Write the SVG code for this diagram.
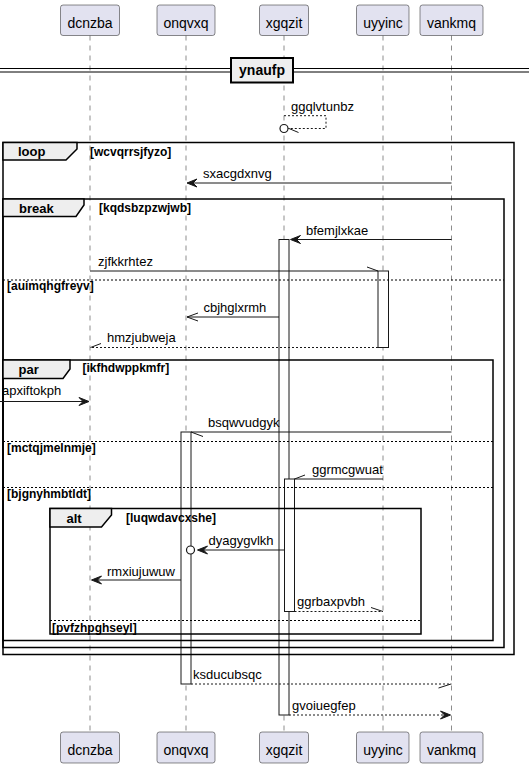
<svg xmlns="http://www.w3.org/2000/svg" width="529" height="768" viewBox="0 0 529 768">
<style>
text{font-family:"Liberation Sans",Arial,sans-serif;fill:#000}
.pname{font-size:14px;text-anchor:middle}
.msg{font-size:13px}
.glabel{font-size:13px;font-weight:bold}
.cond{font-size:12px;font-weight:bold}
.pbox{fill:#E2E2F0;stroke:#181818;stroke-width:0.5}
.life{stroke:#181818;stroke-width:0.5;stroke-dasharray:5,5}
.frame{fill:none;stroke:#000;stroke-width:1.5}
.tab{fill:#EEEEEE;stroke:#000;stroke-width:1.5}
.sep{stroke:#000;stroke-width:1;stroke-dasharray:2,2}
.act{fill:#FFFFFF;stroke:#181818;stroke-width:1}
.ln{stroke:#181818;stroke-width:1;fill:none}
.dl{stroke:#181818;stroke-width:1;fill:none;stroke-dasharray:2,2}
.ah{fill:#181818;stroke:#181818;stroke-width:1}
</style>
<rect width="529" height="768" fill="#FFFFFF"/>
<g id="lifelines">
<line class="life" x1="90" y1="35.5" x2="90" y2="732"/>
<line class="life" x1="186" y1="35.5" x2="186" y2="732"/>
<line class="life" x1="284" y1="35.5" x2="284" y2="732"/>
<line class="life" x1="383" y1="35.5" x2="383" y2="732"/>
<line class="life" x1="451.5" y1="35.5" x2="451.5" y2="732"/>
</g>
<g id="participants">
<g id="p-dcnzba"><rect class="pbox" x="60.5" y="5" width="59" height="30.5" rx="2.5"/><text class="pname" x="90" y="28">dcnzba</text>
<rect class="pbox" x="60.5" y="732" width="59" height="31" rx="2.5"/><text class="pname" x="90" y="755">dcnzba</text></g>
<g id="p-onqvxq"><rect class="pbox" x="157" y="5" width="58" height="30.5" rx="2.5"/><text class="pname" x="186" y="28">onqvxq</text>
<rect class="pbox" x="157" y="732" width="58" height="31" rx="2.5"/><text class="pname" x="186" y="755">onqvxq</text></g>
<g id="p-xgqzit"><rect class="pbox" x="259.5" y="5" width="49" height="30.5" rx="2.5"/><text class="pname" x="284" y="28">xgqzit</text>
<rect class="pbox" x="259.5" y="732" width="49" height="31" rx="2.5"/><text class="pname" x="284" y="755">xgqzit</text></g>
<g id="p-uyyinc"><rect class="pbox" x="356.5" y="5" width="52.5" height="30.5" rx="2.5"/><text class="pname" x="383" y="28">uyyinc</text>
<rect class="pbox" x="356.5" y="732" width="52.5" height="31" rx="2.5"/><text class="pname" x="383" y="755">uyyinc</text></g>
<g id="p-vankmq"><rect class="pbox" x="420" y="5" width="63" height="30.5" rx="2.5"/><text class="pname" x="451.5" y="28">vankmq</text>
<rect class="pbox" x="420" y="732" width="63" height="31" rx="2.5"/><text class="pname" x="451.5" y="755">vankmq</text></g>
</g>
<g id="divider">
<line x1="0" y1="68.5" x2="529" y2="68.5" stroke="#000" stroke-width="1"/>
<line x1="0" y1="72" x2="529" y2="72" stroke="#000" stroke-width="1"/>
<rect x="231" y="58" width="62" height="24.5" fill="#EEEEEE" stroke="#000" stroke-width="2"/>
<text class="glabel" x="262" y="75" text-anchor="middle" style="font-size:14px">ynaufp</text>
</g>
<g id="activations">
<rect class="act" x="279" y="239.5" width="10" height="475.5"/>
<rect class="act" x="378" y="271" width="10.5" height="76.5"/>
<rect class="act" x="181" y="432" width="10" height="252"/>
<rect class="act" x="284.5" y="479" width="10" height="132.5"/>
</g>
<g id="frames">
<g id="loop"><rect class="frame" x="3" y="142.5" width="511" height="512"/>
<polygon class="tab" points="3,142.5 77,142.5 77,149 66,160 3,160"/>
<text class="glabel" x="18" y="156">loop</text><text class="cond" x="90" y="156">[wcvqrrsjfyzo]</text></g>
<g id="break"><rect class="frame" x="3" y="199" width="501" height="448.5"/>
<polygon class="tab" points="3,199 84,199 84,205 76,216.5 3,216.5"/>
<text class="glabel" x="19" y="213">break</text><text class="cond" x="99" y="212">[kqdsbzpzwjwb]</text>
<line class="sep" x1="3" y1="280" x2="504" y2="280"/>
<text class="cond" x="7" y="290">[auimqhgfreyv]</text></g>
<g id="par"><rect class="frame" x="3" y="360" width="490" height="280.5"/>
<polygon class="tab" points="3,360 70,360 70,369 63,378.5 3,378.5"/>
<text class="glabel" x="18.5" y="374">par</text><text class="cond" x="82.5" y="372">[ikfhdwppkmfr]</text>
<line class="sep" x1="3" y1="441.5" x2="493" y2="441.5"/>
<text class="cond" x="7" y="452">[mctqjmelnmje]</text>
<line class="sep" x1="3" y1="487.5" x2="493" y2="487.5"/>
<text class="cond" x="7" y="498">[bjgnyhmbtldt]</text></g>
<g id="alt"><rect class="frame" x="50" y="508.5" width="371" height="125.5"/>
<polygon class="tab" points="50,508.5 111.5,508.5 111.5,515 101.5,527 50,527"/>
<text class="glabel" x="66.5" y="523">alt</text><text class="cond" x="126" y="522">[luqwdavcxshe]</text>
<line class="sep" x1="50" y1="620.5" x2="421" y2="620.5"/>
<text class="cond" x="52" y="632">[pvfzhpghseyl]</text></g>
</g>
<g id="connectors">
<g id="m-ggqlvtunbz"><polyline class="dl" points="284,115.7 326,115.7 326,128.5 288,128.5"/>
<circle cx="284" cy="128.5" r="4" fill="#FFFFFF" stroke="#181818" stroke-width="1.2"/>
<line class="ln" x1="289" y1="128.5" x2="298.5" y2="132.5"/>
<text class="msg" x="291" y="111">ggqlvtunbz</text></g>
<g id="m-sxacgdxnvg"><line class="ln" x1="451.5" y1="183" x2="190" y2="183"/>
<polygon class="ah" points="187,183 197,179 193,183 197,187"/>
<text class="msg" x="203" y="178">sxacgdxnvg</text></g>
<g id="m-bfemjlxkae"><line class="ln" x1="451.5" y1="239.5" x2="294" y2="239.5"/>
<polygon class="ah" points="290.5,239.5 300.5,235.5 296.5,239.5 300.5,243.5"/>
<text class="msg" x="306" y="234.5">bfemjlxkae</text></g>
<g id="m-zjfkkrhtez"><line class="ln" x1="90" y1="271" x2="378" y2="271"/>
<line class="ln" x1="367" y1="267" x2="378" y2="271"/>
<text class="msg" x="98" y="265.5">zjfkkrhtez</text></g>
<g id="m-cbjhglxrmh"><line class="ln" x1="279" y1="317" x2="187" y2="317"/>
<line class="ln" x1="187" y1="317" x2="198" y2="313"/>
<line class="ln" x1="187" y1="317" x2="198" y2="321"/>
<text class="msg" x="203.5" y="311.5">cbjhglxrmh</text></g>
<g id="m-hmzjubweja"><line class="dl" x1="378" y1="347.5" x2="90" y2="347.5"/>
<line class="ln" x1="90.5" y1="347.5" x2="101" y2="343.5"/>
<text class="msg" x="107" y="342">hmzjubweja</text></g>
<g id="m-apxiftokph"><line class="ln" x1="0" y1="401.5" x2="85" y2="401.5"/>
<polygon class="ah" points="89,401.5 79,397.5 83,401.5 79,405.5"/>
<text class="msg" x="2" y="395">apxiftokph</text></g>
<g id="m-bsqwvudgyk"><line class="ln" x1="451.5" y1="432" x2="191" y2="432"/>
<line class="ln" x1="191" y1="432" x2="203" y2="436.5"/>
<text class="msg" x="208" y="427">bsqwvudgyk</text></g>
<g id="m-ggrmcgwuat"><line class="ln" x1="383" y1="479" x2="294.5" y2="479"/>
<line class="ln" x1="294.5" y1="479" x2="305" y2="475"/>
<text class="msg" x="312" y="474">ggrmcgwuat</text></g>
<g id="m-dyagygvlkh"><line class="ln" x1="284.5" y1="550" x2="202" y2="550"/>
<polygon class="ah" points="197.5,550 207.5,546 203.5,550 207.5,554"/>
<circle cx="190.5" cy="550" r="4" fill="#FFFFFF" stroke="#181818" stroke-width="1.2"/>
<text class="msg" x="208.5" y="545">dyagygvlkh</text></g>
<g id="m-rmxiujuwuw"><line class="ln" x1="181" y1="580" x2="96" y2="580"/>
<polygon class="ah" points="91.5,580 101.5,576 97.5,580 101.5,584"/>
<text class="msg" x="107" y="575.5">rmxiujuwuw</text></g>
<g id="m-ggrbaxpvbh"><line class="dl" x1="294.5" y1="611.5" x2="383" y2="611.5"/>
<line class="ln" x1="371" y1="607.5" x2="383" y2="611.5"/>
<text class="msg" x="297" y="606">ggrbaxpvbh</text></g>
<g id="m-ksducubsqc"><line class="dl" x1="191" y1="684" x2="451.5" y2="684"/>
<line class="ln" x1="438.5" y1="688" x2="451" y2="684"/>
<text class="msg" x="193" y="679">ksducubsqc</text></g>
<g id="m-gvoiuegfep"><line class="dl" x1="289" y1="715" x2="446" y2="715"/>
<polygon class="ah" points="450.5,715 440.5,711 444.5,715 440.5,719"/>
<text class="msg" x="292" y="710">gvoiuegfep</text></g>
</g>
</svg>
